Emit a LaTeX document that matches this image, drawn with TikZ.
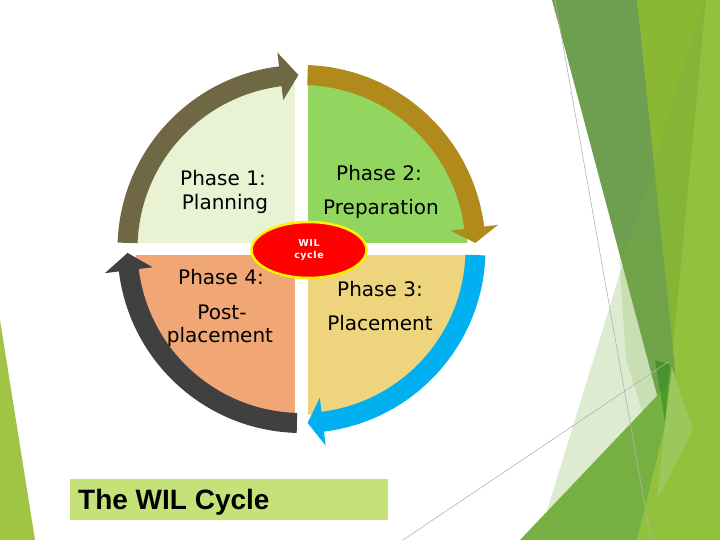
\documentclass[tikz,border=0pt]{standalone}
\usepackage{fontspec}
\newfontfamily\phasefont{DejaVu Sans}
\newfontfamily\hubfont[LetterSpace=6]{DejaVu Sans Bold}
\newfontfamily\titlefont{Liberation Sans}
\usetikzlibrary{shapes.geometric}

\definecolor{facetlime}{RGB}{138,184,50}
\definecolor{facetbright}{RGB}{155,200,60}
\definecolor{facetdark}{RGB}{110,158,80}
\definecolor{facetmid}{RGB}{118,176,67}
\definecolor{facetleaf}{RGB}{160,197,68}
\definecolor{facetlens}{RGB}{168,208,100}
\definecolor{quadone}{RGB}{233,243,211}
\definecolor{quadtwo}{RGB}{146,214,96}
\definecolor{quadthree}{RGB}{238,212,125}
\definecolor{quadfour}{RGB}{240,167,117}
\definecolor{arrowolive}{RGB}{112,104,68}
\definecolor{arrowgold}{RGB}{176,138,26}
\definecolor{arrowblue}{RGB}{0,176,240}
\definecolor{arrowgray}{RGB}{64,64,64}
\definecolor{titlegreen}{RGB}{196,226,120}

\begin{document}
\begin{tikzpicture}[x=1pt,y=1pt,
  phase/.style={font=\phasefont\fontsize{20}{24}\selectfont,anchor=base,inner sep=0pt},
  hub/.style={ellipse,fill=red,draw=yellow,line width=2.5pt,minimum width=115pt,
    minimum height=56pt,inner sep=0pt,align=center,text=white,
    font=\hubfont\fontsize{9.5}{12}\selectfont},
  titletext/.style={font=\titlefont\bfseries\fontsize{28}{30}\selectfont,anchor=base west,inner sep=0pt},
  thinline/.style={draw=black!30,line width=0.6pt}]
  \useasboundingbox (0,0) rectangle (720,540);

  % facets of the slide background
  \fill[facetleaf] (0,220) -- (35,0) -- (0,0) -- cycle;
  \fill[facetbright] (700,540) -- (720,540) -- (720,0) -- (637,0) -- (665,120) -- cycle;
  \fill[facetlime] (637,540) -- (706,540) -- (668,140) -- cycle;
  \fill[facetdark] (552,540) -- (637,540) -- (675,170) -- (665,115) -- cycle;
  \fill[facetmid] (520,0) -- (672,160) -- (665,115) -- (637,0) -- cycle;
  \fill[facetlens] (670,178) -- (693,110) -- (657,40) -- (665,115) -- cycle;
  \fill[facetmid,opacity=0.25] (704,540) -- (720,540) -- (720,0) -- (538,0) -- cycle;
  \fill[facetmid,opacity=0.2] (618,300) -- (626,180) -- (645,120) -- (672,160) -- (650,300) -- cycle;
  \fill[green!45!black,opacity=0.35] (655,180) -- (672,175) -- (665,118) -- cycle;
  \draw[thinline] (555,540) -- (651,0);
  \draw[thinline] (403,0) -- (668,178);

  \def\cx{301.5}% centre x
  \def\cy{291}% centre y
  \def\rq{166}% radius of the quarters
  \def\rin{164}% inner radius of an arrow
  \def\rout{184}% outer radius of an arrow
  \def\rmid{174}% radius of the arrow tips
  \def\hin{150}% inner edge of a head
  \def\hout{198}% outer edge of a head
  % colour, start angle, head angle, tip angle
  \def\wilarrow#1#2#3#4{%
    \fill[#1] (#2:\rout) arc[start angle=#2,end angle=#3,radius=\rout]
      -- (#3:\hout) -- (#4:\rmid) -- (#3:\hin) -- (#3:\rin)
      arc[start angle=#3,end angle=#2,radius=\rin] -- cycle;}

  \begin{scope}[shift={(\cx,\cy)}]
    \fill[quadone] (0,0) -- (180:\rq) arc[start angle=180,end angle=90,radius=\rq] -- cycle;
    \fill[quadtwo] (0,0) -- (90:\rq) arc[start angle=90,end angle=0,radius=\rq] -- cycle;
    \fill[quadthree] (0,0) -- (0:\rq) arc[start angle=0,end angle=-90,radius=\rq] -- cycle;
    \fill[quadfour] (0,0) -- (-90:\rq) arc[start angle=-90,end angle=-180,radius=\rq] -- cycle;
    \fill[white] (-6.5,-\rq-1) rectangle (6.5,\rq+1);
    \fill[white] (-\rq-1,-6) rectangle (\rq+1,6);

    \wilarrow{arrowolive}{178}{97}{91}
    \wilarrow{arrowgold}{88}{7}{2}
    \wilarrow{arrowblue}{-2}{-83}{-88}
    \wilarrow{arrowgray}{268.5}{187}{181.3}
  \end{scope}

  \node[hub] (hub) at (309,290) {WIL\\cycle};

  \node[phase] (planA) at (223,354) {Phase 1:};
  \node[phase] (planB) at (225,330) {Planning};
  \node[phase] (prepA) at (379,359) {Phase 2:};
  \node[phase] (prepB) at (381,325) {Preparation};
  \node[phase] (placeA) at (380,243) {Phase 3:};
  \node[phase] (placeB) at (380,209) {Placement};
  \node[phase] (postA) at (221,255) {Phase 4:};
  \node[phase] (postB) at (222,220) {Post-};
  \node[phase] (postC) at (220,197) {placement};

  \fill[titlegreen] (70,20) rectangle (388,61);
  \node[titletext] (title) at (78,30) {The WIL Cycle};
\end{tikzpicture}
\end{document}
